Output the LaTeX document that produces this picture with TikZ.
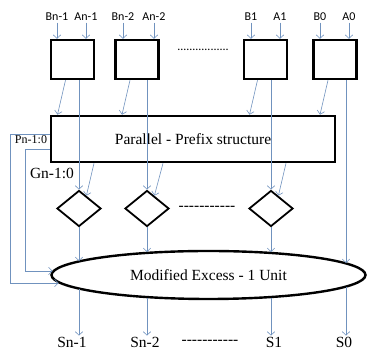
\documentclass[tikz,border=0pt]{standalone}
\usepackage{fontspec}
\setmainfont{Liberation Serif}
\newfontfamily\calibfont{Carlito}
\usetikzlibrary{arrows.meta,shapes.geometric}
\definecolor{wirecol}{RGB}{112,146,190}

\newcommand*{\celly}{59.5}
\newcommand*{\gatey}{208.5}
\newcommand*{\dashrow}[1]{\foreach \i in {1,...,#1}{-\kern0pt}}

\begin{document}
\begin{tikzpicture}
[
	x=1pt,y=-1pt,
	cell/.style={draw,line width=2.4pt,minimum width=43,minimum height=39,inner sep=0pt},
	prefixbox/.style={draw,line width=2.6pt,minimum width=284,minimum height=46,font=\fontsize{15.5}{18}\selectfont},
	gate/.style={diamond,draw,line width=1.8pt,minimum width=44,minimum height=36,inner sep=0pt},
	excess/.style={ellipse,draw,line width=2.4pt,minimum width=314,minimum height=48,inner sep=0pt,font=\fontsize{15.5}{18}\selectfont},
	inlab/.style={font=\calibfont\fontsize{12}{14}\selectfont,inner sep=1.5pt},
	outlab/.style={font=\fontsize{15.5}{18}\selectfont,inner sep=1pt},
	wire/.style={wirecol,line width=0.6pt,-{Straight Barb[length=3.5pt,width=7.5pt]}}
]
	\useasboundingbox (0,0) rectangle (368,352);

	% adder cells
	\node[cell] (c1) at (72.5,\celly) {};
	\node[cell] (c2) at (137,\celly) {};
	\node[cell] (c3) at (265.5,\celly) {};
	\node[cell] (c4) at (335,\celly) {};
	\node[inlab] (dots) at (203,50) {.................};

	% inputs
	\node[inlab] (bn1) at (57,17) {Bn-1};
	\node[inlab] (an1) at (86,17) {An-1};
	\node[inlab] (bn2) at (123,17) {Bn-2};
	\node[inlab] (an2) at (154,17) {An-2};
	\node[inlab] (b1) at (251,17) {B1};
	\node[inlab] (a1) at (280,17) {A1};
	\node[inlab] (b0) at (320,17) {B0};
	\node[inlab] (a0) at (349,17) {A0};

	\draw[wire] (bn1.south) -- (bn1.south |- c1.north);
	\draw[wire] (an1.south) -- (an1.south |- c1.north);
	\draw[wire] (bn2.south) -- (bn2.south |- c2.north);
	\draw[wire] (an2.south) -- (an2.south |- c2.north);
	\draw[wire] (b1.south) -- (b1.south |- c3.north);
	\draw[wire] (a1.south) -- (a1.south |- c3.north);
	\draw[wire] (b0.south) -- (b0.south |- c4.north);
	\draw[wire] (a0.south) -- (a0.south |- c4.north);

	% prefix tree
	\node[prefixbox] (pp) at (193,139) {Parallel - Prefix structure};
	\node[font=\fontsize{12}{14}\selectfont,inner sep=1pt] (pn) at (31,140) {Pn-1:0};
	\node[outlab] (gn) at (52,173) {Gn-1:0};

	\draw[wire] ([xshift=-7pt]c1.south) -- ([xshift=-15pt]c1.south |- pp.north);
	\draw[wire] ([xshift=-7pt]c2.south) -- ([xshift=-15pt]c2.south |- pp.north);
	\draw[wire] ([xshift=-8pt]c3.south) -- ([xshift=-16pt]c3.south |- pp.north);
	\draw[wire] ([xshift=-7pt]c4.south) -- ([xshift=-15pt]c4.south |- pp.north);

	% gates
	\node[gate] (d1) at (79,\gatey) {};
	\node[gate] (d2) at (147,\gatey) {};
	\node[gate] (d3) at (271,\gatey) {};
	\node[outlab] (dash1) at (207,208) {\dashrow{11}};

	\draw[wire] (c1.south -| d1.north) -- (d1.north);
	\draw[wire] (c2.south -| d2.north) -- (d2.north);
	\draw[wire] (c3.south -| d3.north) -- (d3.north);
	\draw[wire] ([xshift=15pt]d1.north |- pp.south) -- (d1.60);
	\draw[wire] ([xshift=16pt]d2.north |- pp.south) -- (d2.60);
	\draw[wire] ([xshift=15pt]d3.north |- pp.south) -- (d3.60);

	% excess-1 unit
	\node[excess] (ex) at (208.5,275) {Modified Excess - 1 Unit};
	\coordinate (et1) at (79,261);
	\coordinate (et2) at (147,252);
	\coordinate (et3) at (271,252);
	\coordinate (et4) at (346,263);
	\coordinate (eb1) at (79,289);
	\coordinate (eb2) at (147,298);
	\coordinate (eb3) at (271,298);
	\coordinate (eb4) at (346,287);
	\coordinate (pin) at (58.5,283);
	\coordinate (gin) at (52.5,271);

	\draw[wire] (d1.south) -- (et1);
	\draw[wire] (d2.south) -- (et2);
	\draw[wire] (d3.south) -- (et3);
	\draw[wire] (c4.south -| et4) -- (et4);
	\draw[wire] ([yshift=5pt]pp.west) -- ++(-39,0) |- (pin);
	\draw[wire] ([yshift=-10pt]pp.west) -- ++(-24,0) |- (gin);

	% outputs
	\node[outlab] (sn1) at (72,342) {Sn-1};
	\node[outlab] (sn2) at (145,342) {Sn-2};
	\node[outlab] (s1) at (274,342) {S1};
	\node[outlab] (s0) at (344,342) {S0};
	\node[outlab] (dash2) at (210,342) {\dashrow{11}};

	\draw[wire] (eb1) -- (eb1 |- sn1.north);
	\draw[wire] (eb2) -- (eb2 |- sn2.north);
	\draw[wire] (eb3) -- (eb3 |- s1.north);
	\draw[wire] (eb4) -- (eb4 |- s0.north);

\end{tikzpicture}
\end{document}
